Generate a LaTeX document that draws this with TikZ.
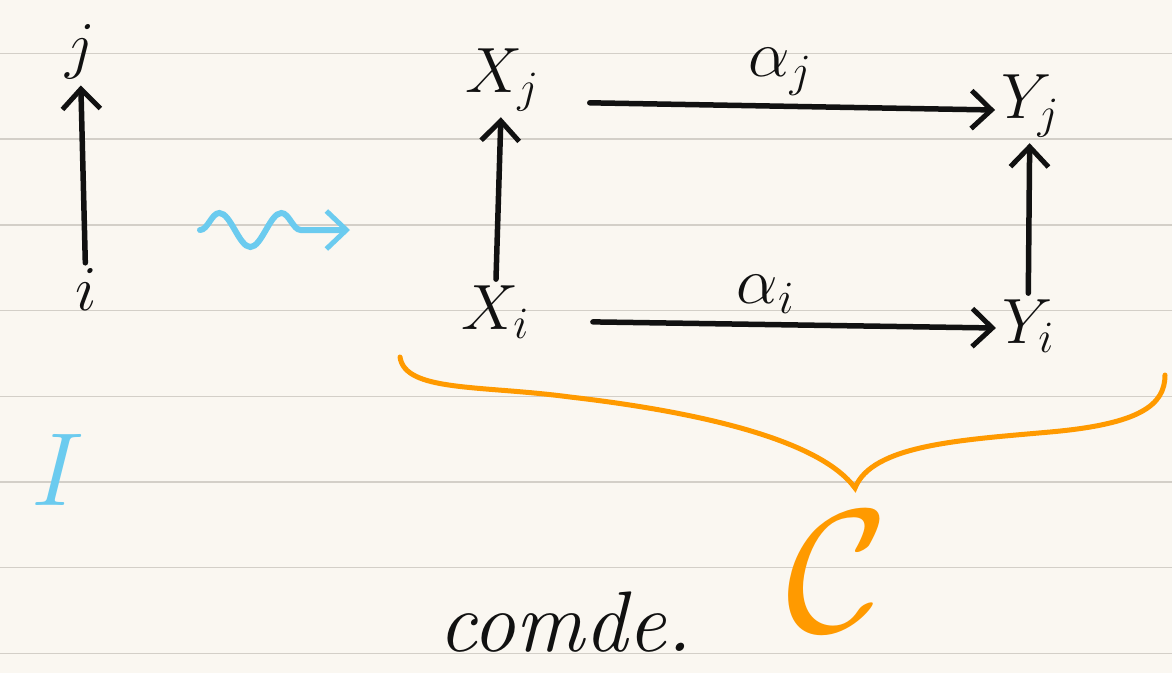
\RequirePackage{fix-cm}
\documentclass[tikz,border=0pt]{standalone}
\usepackage{amsmath}
\usepackage{xcolor}
\usetikzlibrary{arrows.meta,positioning,decorations.pathmorphing}
\definecolor{noteCream}{HTML}{FAF7F1}
\definecolor{noteRule}{HTML}{D3CFC8}
\definecolor{noteBlue}{HTML}{6BCBEF}
\definecolor{noteOrange}{HTML}{FF9A00}
\definecolor{noteInk}{HTML}{111111}
\begin{document}
\begin{tikzpicture}[x=1pt,y=-1pt,
  barb/.tip={Straight Barb[length=20pt,width=38pt,line width=5pt]},
  obj/.style={text=noteInk,font=\fontsize{64}{70}\selectfont,inner sep=6pt},
  lab/.style={text=noteInk,font=\fontsize{66}{72}\selectfont,inner sep=8pt},
  ink/.style={draw=noteInk,line width=5.5pt,line cap=round,-barb},
  squig/.style={draw=noteBlue,line width=6pt,line cap=round,-barb,decorate,
    decoration={snake,amplitude=17pt,segment length=62pt,post length=24pt}},
  brace/.style={draw=noteOrange,line width=5pt,line cap=round}
]
  \fill[noteCream] (0,0) rectangle (1172,673);
  \useasboundingbox (0,0) rectangle (1172,673);
  \foreach \k in {0,...,7}
    \draw[noteRule,line width=1.5pt] (0,{53.5+85.7*\k}) -- (1172,{53.5+85.7*\k});

  % index category
  \node[obj] (j) at (80,52) {$j$};
  \node[obj] (i) at (86,290) {$i$};
  \draw[ink] (i) -- (j);
  \node[obj,text=noteBlue,font=\fontsize{104}{110}\selectfont] (I) at (58,470) {$I$};

  % squiggly arrow
  \coordinate (sqL) at (200,230);
  \coordinate (sqR) at (350,230);
  \draw[squig] (sqL) -- (sqR);

  % square
  \node[obj] (Xj) at (502,80) {$X_j$};
  \node[obj] (Yj) at (1030,106) {$Y_j$};
  \node[obj] (Xi) at (495,312) {$X_i$};
  \node[obj] (Yi) at (1028,326) {$Y_i$};
  \draw[ink,shorten <=45pt] ([yshift=-22pt]Xj.east) -- node[lab,above,xshift=10pt] {$\alpha_j$} ([yshift=-4pt]Yj.west);
  \draw[ink,shorten <=58pt] ([yshift=-9pt]Xi.east) -- node[lab,above] {$\alpha_i$} ([yshift=-2pt]Yi.west);
  \draw[ink] (Xi) -- (Xj);
  \draw[ink] (Yi) -- (Yj);

  % brace and category
  \draw[brace] (400,357) .. controls (405,392) and (480,385) .. (570,397)
    .. controls (700,412) and (820,440) .. (855,488)
    .. controls (872,445) and (960,440) .. (1050,432)
    .. controls (1140,424) and (1165,405) .. (1165,375);
  \node[text=noteOrange,font=\fontsize{175}{185}\selectfont] (C) at (838,572) {$\mathcal{C}$};

  \node[text=noteInk,font=\fontsize{86}{90}\selectfont\itshape] (note) at (565,622) {comde.};
\end{tikzpicture}
\end{document}
